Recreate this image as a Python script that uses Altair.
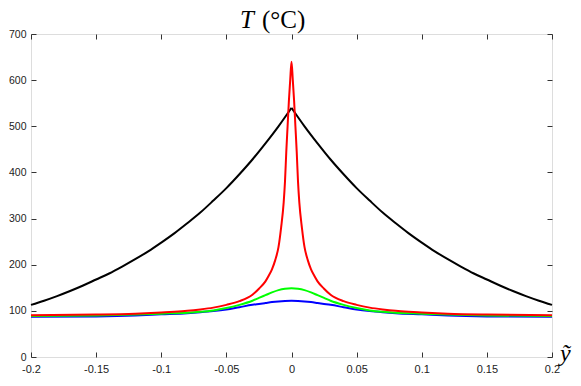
import altair as alt
import pandas as pd

# ---- data ----
black_x = [-0.20, -0.19, -0.18, -0.17, -0.16, -0.15, -0.14, -0.13, -0.12, -0.11, -0.10,
           -0.09, -0.08, -0.07, -0.06, -0.05, -0.04, -0.03, -0.02, -0.01, 0.00,
           0.00, 0.01, 0.02, 0.03, 0.04, 0.05, 0.06, 0.07, 0.08, 0.09, 0.10,
           0.11, 0.12, 0.13, 0.14, 0.15, 0.16, 0.17, 0.18, 0.19, 0.20]
black_T = [113, 122, 132, 143, 155, 168, 181, 196, 212, 229, 248,
           268, 290, 313, 339, 366, 396, 428, 463, 500, 540,
           540, 500, 463, 428, 396, 366, 339, 313, 290, 268, 248,
           229, 212, 196, 181, 168, 155, 143, 132, 122, 113]
black_side = ["left"] * 21 + ["right"] * 21

red_x = [-0.2, -0.15, -0.12, -0.1, -0.09, -0.08, -0.07, -0.06, -0.05, -0.04, -0.03, -0.025,
         -0.02, -0.0175, -0.015, -0.0125, -0.01, -0.008, -0.006, -0.005, -0.004, -0.003,
         -0.002, -0.001, 0.0, 0.001, 0.002, 0.003, 0.004, 0.005, 0.006, 0.008, 0.01,
         0.0125, 0.015, 0.0175, 0.02, 0.025, 0.03, 0.04, 0.05, 0.06, 0.07, 0.08, 0.09,
         0.1, 0.12, 0.15, 0.2]
red_T = [90.5, 92, 94, 96.5, 98, 100, 103, 107, 113, 121, 135, 148,
         164, 176, 190, 210, 238, 280, 335, 380, 445, 500,
         555, 600, 640, 600, 555, 500, 445, 380, 335, 280, 238,
         210, 190, 176, 164, 148, 135, 121, 113, 107, 103, 100, 98,
         96.5, 94, 92, 90.5]

gb_x = [-0.2, -0.15, -0.12, -0.1, -0.08, -0.07, -0.06, -0.05, -0.04, -0.03, -0.025, -0.02,
        -0.015, -0.01, -0.005, 0.0, 0.005, 0.01, 0.015, 0.02, 0.025, 0.03, 0.04, 0.05,
        0.06, 0.07, 0.08, 0.1, 0.12, 0.15, 0.2]
green_T = [89, 90, 92, 94, 96, 98, 101, 106, 113, 122, 128, 134,
           140, 145, 148, 149, 148, 145, 140, 134, 128, 122, 113, 106,
           101, 98, 96, 94, 92, 90, 89]
blue_T = [87, 88, 90, 92.5, 95, 97, 99.5, 103, 108, 113, 115, 117,
          119, 120.5, 121.5, 122, 121.5, 120.5, 119, 117, 115, 113, 108, 103,
          99.5, 97, 95, 92.5, 90, 88, 87]

x_ticks = [-0.2, -0.15, -0.1, -0.05, 0, 0.05, 0.1, 0.15, 0.2]
y_ticks = [0, 100, 200, 300, 400, 500, 600, 700]

df_black = pd.DataFrame({"x": black_x, "T": black_T, "side": black_side})
df_red = pd.DataFrame({"x": red_x, "T": red_T})
df_green = pd.DataFrame({"x": gb_x, "T": green_T})
df_blue = pd.DataFrame({"x": gb_x, "T": blue_T})

AX = "#333333"
LABEL_FONT = "Liberation Sans"

xs = alt.Scale(domain=[-0.2, 0.2], nice=False, zero=False)
ys = alt.Scale(domain=[0, 700], nice=False)

common = dict(domain=False, tickSize=5, tickColor=AX, tickWidth=1, grid=False, title=None)
ax_bottom = alt.Axis(orient="bottom", values=x_ticks, offset=-5, labelColor="#222222",
                     labelFont=LABEL_FONT, labelFontSize=11, labelPadding=6,
                     labelExpr="'' + datum.value", labelFlush=False, labelOverlap=False, **common)
ax_top = alt.Axis(orient="top", values=x_ticks, offset=-5, labels=False, **common)
ax_left = alt.Axis(orient="left", values=y_ticks, offset=-5, labelColor="#222222",
                   labelFont=LABEL_FONT, labelFontSize=10.5, labelPadding=5,
                   labelOverlap=False, labelFlush=False, **common)
ax_right = alt.Axis(orient="right", values=y_ticks, offset=-5, labels=False, **common)

black = alt.Chart(df_black).mark_line(color="#000000", strokeWidth=2, interpolate="monotone").encode(
    x=alt.X("x:Q", scale=xs, axis=ax_bottom),
    y=alt.Y("T:Q", scale=ys, axis=ax_left),
    detail="side:N",
)
blue = alt.Chart(df_blue).mark_line(color="#0000ff", strokeWidth=2, interpolate="monotone").encode(
    x=alt.X("x:Q", scale=xs, axis=None),
    y=alt.Y("T:Q", scale=ys, axis=None),
)
green = alt.Chart(df_green).mark_line(color="#00ff00", strokeWidth=2, interpolate="monotone").encode(
    x=alt.X("x:Q", scale=xs, axis=None),
    y=alt.Y("T:Q", scale=ys, axis=None),
)
red = alt.Chart(df_red).mark_line(color="#ff0000", strokeWidth=2, interpolate="monotone").encode(
    x=alt.X("x:Q", scale=xs, axis=ax_top),
    y=alt.Y("T:Q", scale=ys, axis=ax_right),
)

title_T = alt.Chart(pd.DataFrame({"t": ["T"]})).mark_text(
    font="Liberation Serif", fontSize=25, fontStyle="italic", align="left",
    baseline="alphabetic", color="#000000"
).encode(x=alt.value(209), y=alt.value(-6), text="t:N")
title_unit = alt.Chart(pd.DataFrame({"t": ["(°C)"]})).mark_text(
    font="Liberation Serif", fontSize=25, align="left", baseline="alphabetic", color="#000000"
).encode(x=alt.value(231), y=alt.value(-6), text="t:N")
xlabel = alt.Chart(pd.DataFrame({"t": ["ỹ"]})).mark_text(
    font="Liberation Serif", fontSize=24, fontStyle="italic", align="left",
    baseline="alphabetic", color="#000000"
).encode(x=alt.value(529), y=alt.value(327), text="t:N")

chart = alt.layer(black, blue, green, red, title_T, title_unit, xlabel).resolve_axis(
    x="independent", y="independent"
).properties(
    width=521, height=323,
    autosize=alt.AutoSizeParams(type="none"),
    padding={"left": 23, "top": 26, "right": 21, "bottom": 21},
).configure_view(stroke=AX, strokeWidth=1).configure(background="white")

chart.save("out.html", embed_options={"renderer": "svg", "actions": False})
